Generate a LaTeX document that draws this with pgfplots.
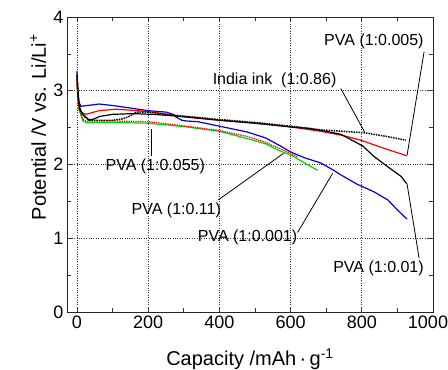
\documentclass[border=0pt]{standalone}
\usepackage{fontspec}
\setmainfont{Liberation Sans}
\usepackage{pgfplots}
\pgfplotsset{compat=1.18}
\begin{document}
\begin{tikzpicture}
\begin{axis}[
 at={(67pt,58pt)}, anchor=south west,
 scale only axis, width=366pt, height=295pt,
 xmin=-28, xmax=1000, ymin=0, ymax=4,
 xtick={0,200,...,1000}, ytick={0,1,2,3,4},
 xticklabels={0,200,400,600,800,\makebox[0pt][c]{\kern-10pt 1000}},
 minor xtick={100,300,...,900}, minor ytick={0.5,1.5,2.5,3.5},
 tick align=inside, major tick length=5pt, minor tick length=4pt,
 grid=major, major grid style={dotted, black!80, line width=0.7pt},
 tick style={black!80, line width=0.6pt},
 axis line style={black!85, line width=0.8pt},
 tick label style={font=\fontsize{18}{20}\selectfont},
 /pgf/number format/assume math mode=true,
 /pgf/number format/1000 sep={},
 xlabel={Capacity /mAh\,·\,g\textsuperscript{-1}},
 ylabel={Potential /V vs. Li/Li\textsuperscript{+}},
 label style={font=\fontsize{20}{24}\selectfont},
 xlabel style={at={(axis description cs:0.5,-0.16)}, anchor=center},
 ylabel style={at={(axis description cs:-0.079,0.627)}, anchor=center},
 clip=false,
]
% PVA (1:0.001) blue
\addplot[blue!90!black, line width=1.2pt] coordinates {
(0,3.27)(2,3.0)(5,2.85)(11,2.79)(30,2.80)(62,2.82)(100,2.80)(158,2.76)(200,2.73)(251,2.71)(270,2.68)(279,2.64)(295,2.60)(307,2.59)(340,2.58)(400,2.52)(479,2.44)(530,2.36)(572,2.25)(600,2.17)(640,2.09)(685,2.02)(718,1.93)(741,1.86)(788,1.73)(834,1.63)(873,1.52)(901,1.38)(927,1.26)};
% PVA (1:0.11) green
\addplot[green!85!black, line width=1.2pt] coordinates {
(0,3.1)(5,2.75)(17,2.59)(25,2.57)(100,2.57)(200,2.56)(307,2.51)(400,2.45)(487,2.34)(530,2.28)(572,2.18)(600,2.13)(640,2.02)(676,1.92)};
% PVA (1:0.055) red dotted
\addplot[red, densely dotted, line width=1.3pt] coordinates {
(0,3.1)(5,2.78)(17,2.61)(25,2.59)(100,2.59)(200,2.58)(290,2.53)(400,2.46)(479,2.38)(530,2.30)(572,2.21)(600,2.15)(620,2.10)};
% PVA (1:0.005) red
\addplot[red, line width=1.2pt] coordinates {
(0,3.15)(3,2.9)(6,2.76)(15,2.70)(25,2.68)(40,2.70)(62,2.73)(110,2.75)(200,2.72)(290,2.65)(400,2.60)(500,2.56)(600,2.51)(685,2.45)(750,2.39)(797,2.33)(850,2.24)(900,2.16)(926,2.12)};
% PVA (1:0.01) black
\addplot[black, line width=1.2pt] coordinates {
(0,3.22)(3,2.95)(8,2.75)(17,2.68)(34,2.60)(50,2.62)(62,2.65)(100,2.68)(158,2.69)(214,2.68)(300,2.65)(400,2.60)(500,2.56)(600,2.51)(650,2.49)(700,2.45)(741,2.41)(780,2.31)(803,2.25)(834,2.11)(870,1.98)(910,1.84)(926,1.74)};
% India ink dotted black
\addplot[black, densely dotted, line width=1.5pt] coordinates {
(0,3.2)(5,2.85)(12,2.70)(25,2.63)(40,2.60)(100,2.60)(130,2.62)(150,2.66)(166,2.71)(200,2.71)(290,2.66)(400,2.61)(500,2.57)(600,2.52)(685,2.47)(808,2.43)(870,2.38)(924,2.33)};
% annotations
\begin{scope}[font=\fontsize{16}{18}\selectfont]
\node at (axis cs:834,3.67) {PVA (1:0.005)};
\node at (axis cs:555,3.14) {India ink\ \ (1:0.86)};
\node at (axis cs:220,1.97) {PVA (1:0.055)};
\node at (axis cs:279,1.38) {PVA (1:0.11)};
\node at (axis cs:479,1.01) {PVA (1:0.001)};
\node at (axis cs:847,0.59) {PVA (1:0.01)};
\end{scope}
\draw[line width=0.8pt] (axis cs:975,3.53) -- (axis cs:927,2.12);
\draw[line width=0.8pt] (axis cs:741,3.03) -- (axis cs:808,2.44);
\draw[line width=0.8pt] (axis cs:208,2.48) -- (axis cs:208,2.11);
\draw[line width=0.8pt] (axis cs:397,1.52) -- (axis cs:580,2.15);
\draw[line width=0.8pt] (axis cs:620,1.08) -- (axis cs:718,1.88);
\draw[line width=0.8pt] (axis cs:961,0.73) -- (axis cs:927,1.74);
\end{axis}
\pgfresetboundingbox
\path[use as bounding box] (0,0) rectangle (448pt,370pt);
\end{tikzpicture}
\end{document}
